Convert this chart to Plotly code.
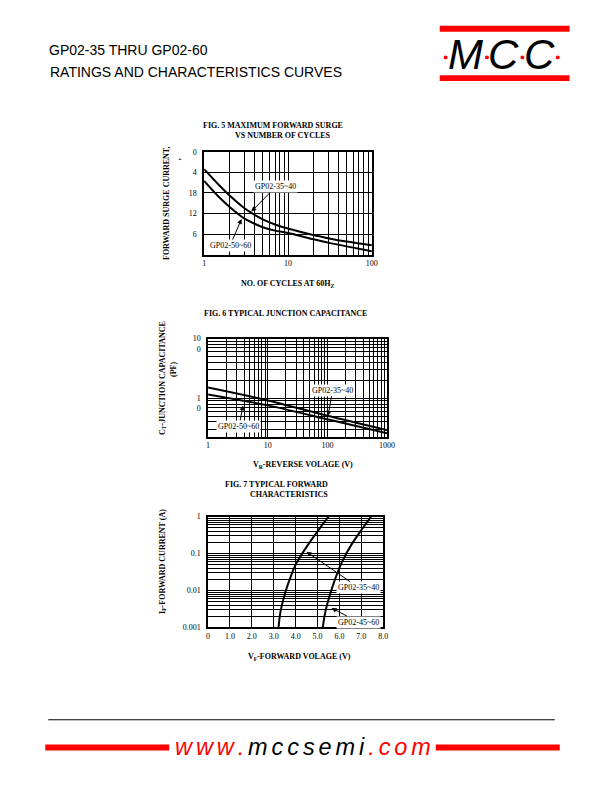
import plotly.graph_objects as go

# ---------------- data ----------------
# Fig. 5  Maximum forward surge current vs number of cycles
f5_cycles = [1, 1.5, 2, 3, 4, 5, 7, 10, 20, 30, 50, 100]
f5_gp35 = [24.9, 20.3, 17.3, 13.6, 11.6, 10.3, 8.8, 7.6, 5.7, 4.8, 3.8, 2.7]
f5_gp50 = [21.5, 16.8, 14.0, 10.6, 9.0, 8.0, 7.0, 6.3, 4.5, 3.5, 2.4, 1.0]
f5_xticks = {1: "1", 10: "10", 100: "100"}
f5_yvals = [6, 12, 18, 24, 30]
f5_ytext = ["6", "12", "18", "4", "0"]

# Fig. 6  Typical junction capacitance
f6_volts = [1, 10, 100, 1000]
f6_gp35 = [15.1, 9.2, 5.08, 2.92]
f6_gp50 = [11.6, 7.6, 4.45, 2.58]
f6_xticks = {1: "1", 10: "10", 100: "100", 1000: "1000"}
f6_yticks = {10: "1<br>0", 100: "10<br>0"}

# Fig. 7  Typical forward characteristics
f7_v35 = [3.22, 3.30, 3.48, 3.78, 4.00, 4.50, 5.00, 5.50]
f7_i35 = [0.001, 0.0025, 0.0071, 0.024, 0.050, 0.151, 0.398, 1.0]
f7_v45 = [5.24, 5.35, 5.55, 5.80, 6.10, 6.55, 7.07, 7.45]
f7_i45 = [0.001, 0.0025, 0.0071, 0.020, 0.056, 0.174, 0.49, 1.0]
f7_xvals = [0, 1, 2, 3, 4, 5, 6, 7, 8]
f7_xtext = ["0", "1.0", "2.0", "3.0", "4.0", "5.0", "6.0", "7.0", "8.0"]
f7_yticks = {0.001: "0.001", 0.01: "0.01", 0.1: "0.1", 1: "1"}

# ---------------- helpers ----------------
W, H = 612, 792
SERIF = "Liberation Serif"
SANS = "Liberation Sans"


def px(x):
    return x / W


def py(y):
    return 1 - y / H


def log_grid(lo_exp, hi_exp, labels, min_val=None):
    major_v, major_t, minor_v = [], [], []
    for e in range(lo_exp, hi_exp + 1):
        for m in range(1, 10):
            v = round(m * 10 ** e, 6)
            if v > 10 ** hi_exp * 1.0001:
                break
            if min_val is not None and v < min_val:
                continue
            if v in labels:
                major_v.append(v)
                major_t.append(labels[v])
            else:
                minor_v.append(v)
    return major_v, major_t, minor_v


def axis(domain, minor_vals=None, **kw):
    d = dict(domain=domain, showgrid=True, gridcolor="black", gridwidth=1,
             showline=True, mirror=True, linecolor="black", linewidth=1.5,
             ticks="", zeroline=False, fixedrange=True, tickangle=0,
             tickmode="array",
             tickfont=dict(family=SERIF, size=8, color="black"))
    if minor_vals:
        d["minor"] = dict(tickmode="array", tickvals=minor_vals, showgrid=True,
                          gridcolor="black", gridwidth=1, ticks="")
    d.update(kw)
    return d


fig = go.Figure()
line = dict(color="black", width=2, shape="spline", smoothing=0.8)

fig.add_trace(go.Scatter(x=f5_cycles, y=f5_gp35, mode="lines", line=line, xaxis="x", yaxis="y"))
fig.add_trace(go.Scatter(x=f5_cycles, y=f5_gp50, mode="lines", line=line, xaxis="x", yaxis="y"))
fig.add_trace(go.Scatter(x=f6_volts, y=f6_gp35, mode="lines", line=line, xaxis="x2", yaxis="y2"))
fig.add_trace(go.Scatter(x=f6_volts, y=f6_gp50, mode="lines", line=line, xaxis="x2", yaxis="y2"))
fig.add_trace(go.Scatter(x=f7_v35, y=f7_i35, mode="lines", line=line, xaxis="x3", yaxis="y3"))
fig.add_trace(go.Scatter(x=f7_v45, y=f7_i45, mode="lines", line=line, xaxis="x3", yaxis="y3"))

f5xv, f5xt, f5xm = log_grid(0, 2, f5_xticks)
f6xv, f6xt, f6xm = log_grid(0, 3, f6_xticks)
f6yv, f6yt, f6ym = log_grid(0, 2, f6_yticks, min_val=3)
f7yv, f7yt, f7ym = log_grid(-3, 0, f7_yticks)

fig.update_layout(
    width=W, height=H, margin=dict(l=0, r=0, t=0, b=0),
    paper_bgcolor="white", plot_bgcolor="white", showlegend=False,
    xaxis=axis([px(205.5), px(376)], f5xm, type="log", range=[0, 2],
               tickvals=f5xv, ticktext=f5xt, anchor="y"),
    yaxis=axis([py(253.5), py(149.5)], None, range=[0, 30], tickvals=f5_yvals,
               ticktext=f5_ytext, anchor="x", ticklabelstandoff=4),
    xaxis2=axis([px(209.5), px(391.5)], f6xm, type="log", range=[0, 3],
                tickvals=f6xv, ticktext=f6xt, anchor="y2"),
    yaxis2=axis([py(437.5), py(338.5)], f6ym, type="log", range=[0.358, 2],
                tickvals=f6yv, ticktext=f6yt, anchor="x2",
                ticklabelstandoff=4, ticklabelshift=5),
    xaxis3=axis([px(209.5), px(387.5)], None, range=[0, 8], tickvals=f7_xvals,
                ticktext=f7_xtext, anchor="y3"),
    yaxis3=axis([py(630.5), py(518.5)], f7ym, type="log", range=[-3, 0],
                tickvals=f7yv, ticktext=f7yt, anchor="x3", ticklabelstandoff=4),
)

ann = []


def text(t, x, y, size=8, bold=False, family=SERIF, xanchor="center",
         angle=0, color="black", style="normal"):
    ann.append(dict(text=("<b>%s</b>" % t) if bold else t, x=px(x), y=py(y),
                    xref="paper", yref="paper", xanchor=xanchor, yanchor="middle",
                    showarrow=False, textangle=angle,
                    font=dict(family=family, size=size, color=color, style=style)))


def callout(t, labx, laby, tipx, tipy):
    # boxed series label with an arrow pointing at its curve
    ann.append(dict(text=t, x=px(tipx), y=py(tipy), xref="paper", yref="paper",
                    ax=labx - tipx, ay=laby - tipy, showarrow=True,
                    arrowhead=2, arrowsize=1, arrowwidth=1, arrowcolor="black",
                    bgcolor="white", borderpad=1,
                    font=dict(family=SERIF, size=8, color="black")))


# header
text("GP02-35 THRU GP02-60", 46, 47, size=14, family=SANS, xanchor="left")
text("RATINGS AND CHARACTERISTICS CURVES", 47, 69, size=14, family=SANS, xanchor="left")
for cx, ch in [(471, "M"), (510, "C"), (546, "C")]:
    text(ch, cx, 51, size=42, family=SANS, style="italic")

# fig 5
text("FIG. 5 MAXIMUM FORWARD SURGE", 275, 123, bold=True)
text("VS NUMBER OF CYCLES", 286, 133, bold=True)
text("FORWARD SURGE CURRENT,", 167, 201, bold=True, angle=-90)
text(",", 178, 157, bold=True, angle=-90)
text("NO. OF CYCLES AT 60H<sub>Z</sub>", 290, 283, bold=True)
callout("GP02-35~40", 278, 185, 253.5, 210)
callout("GP02-50~60", 232, 244, 243.5, 217.5)

# fig 6
text("FIG. 6 TYPICAL JUNCTION CAPACITANCE", 288, 313, bold=True)
text("C<sub>T</sub>-JUNCTION CAPACITANCE", 163, 378, bold=True, angle=-90)
text("(PF)", 175, 370, bold=True, angle=-90)
text("V<sub>R</sub>-REVERSE VOLAGE (V)", 306, 466, bold=True)
callout("GP02-35~40", 336, 391, 331.5, 416.5)
callout("GP02-50~60", 241, 427, 245, 406)

# fig 7
text("FIG. 7 TYPICAL FORWARD", 279, 486, bold=True)
text("CHARACTERISTICS", 292, 496, bold=True)
text("I<sub>F</sub>-FORWARD CURRENT (A)", 163, 564, bold=True, angle=-90)
text("V<sub>F</sub>-FORWARD VOLAGE (V)", 302, 661, bold=True)
callout("GP02-35~40", 362, 590, 309.5, 554)
callout("GP02-45~60", 362, 625, 335, 611)

# footer
sp = "\u2006"
red = "<span style='color:#ff0000'>%s</span>"
text(red % sp.join("www.") + sp + sp.join("mccsemi") + sp + red % sp.join(".com"),
     306, 752, size=23.5, family=SANS, style="italic")

fig.update_layout(annotations=ann)

shapes = []


def rect(x0, y0, x1, y1, color="#ff0000"):
    shapes.append(dict(type="rect", xref="paper", yref="paper", x0=px(x0), x1=px(x1),
                       y0=py(y1), y1=py(y0), fillcolor=color, line=dict(width=0)))


rect(445, 22, 577, 28)
rect(445, 72, 577, 78)
for dx in [451, 493, 529, 565]:
    shapes.append(dict(type="circle", xref="paper", yref="paper",
                       x0=px(dx - 2), x1=px(dx + 2), y0=py(56), y1=py(52),
                       fillcolor="#ff0000", line=dict(width=0)))
shapes.append(dict(type="line", xref="paper", yref="paper", x0=px(47), x1=px(562),
                   y0=py(724), y1=py(724), line=dict(color="black", width=1)))
rect(44, 749, 170, 755)
rect(441, 749, 567, 755)
fig.update_layout(shapes=shapes)

fig.write_html("out.html")
